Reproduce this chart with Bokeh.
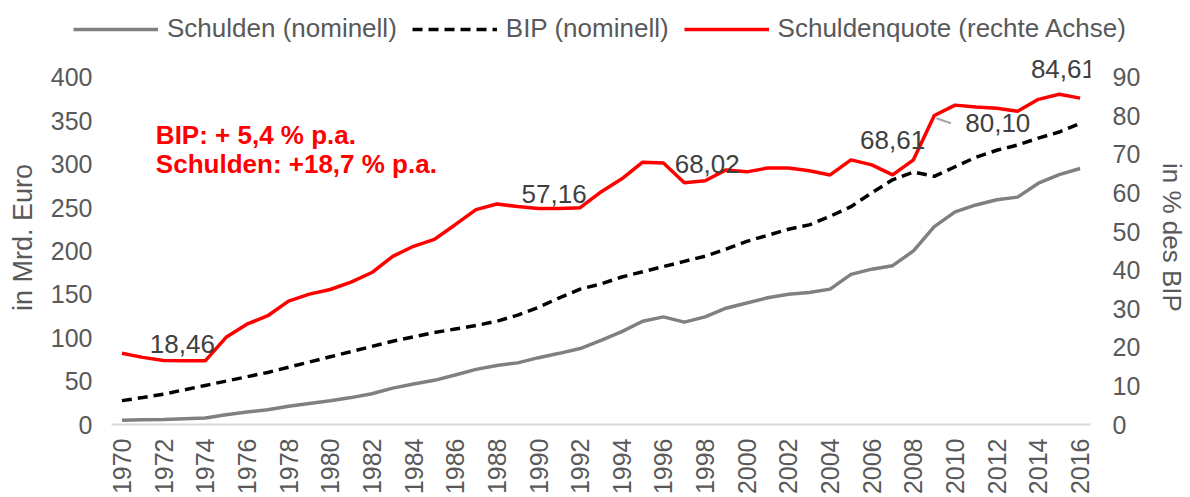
from math import pi
from bokeh.plotting import figure
from bokeh.layouts import column
from bokeh.models import Range1d, LinearAxis, FixedTicker, Legend, LegendItem, Label, LabelSet, ColumnDataSource
from bokeh.core.properties import value
from bokeh.embed import file_html
from bokeh.resources import INLINE

# ---------------- data ----------------
years = list(range(1970, 2017))

schulden = [5.0, 5.4, 5.8, 6.6, 7.4, 11.3, 14.3, 16.9, 21.1, 24.3,
            27.3, 31.0, 35.5, 41.9, 46.7, 50.9, 57.0, 63.5, 68.0, 71.0,
            77.0, 82.0, 87.5, 97.0, 107.0, 119.0, 124.0, 118.0, 124.0, 134.0,
            140.0, 146.0, 150.0, 152.0, 156.0, 173.0, 179.0, 183.0, 200.0, 228.0,
            245.0, 253.0, 259.0, 262.0, 278.0, 288.0, 295.0]

bip = [27.5, 31.0, 35.0, 40.0, 45.0, 50.0, 55.0, 60.0, 66.0, 72.0,
       78.0, 84.0, 90.0, 96.0, 101.0, 106.0, 110.0, 114.0, 119.0, 126.0,
       135.0, 146.0, 156.0, 162.0, 170.0, 176.0, 182.0, 188.0, 194.0, 202.0,
       211.0, 218.0, 225.0, 230.0, 240.0, 251.0, 267.0, 282.0, 291.0, 286.0,
       297.0, 308.0, 316.0, 322.0, 330.0, 337.0, 347.0]

quote = [18.46, 17.4, 16.6, 16.5, 16.5, 22.6, 26.0, 28.2, 32.0, 33.8,
         35.0, 36.9, 39.4, 43.6, 46.2, 48.0, 51.8, 55.7, 57.16, 56.5,
         56.0, 56.0, 56.2, 60.3, 63.7, 68.02, 67.8, 62.7, 63.2, 66.0,
         65.5, 66.5, 66.5, 65.8, 64.7, 68.6, 67.3, 64.7, 68.61, 80.10,
         82.8, 82.3, 82.0, 81.2, 84.3, 85.6, 84.61]

label_texts = ["18,46", "57,16", "68,02", "68,61", "80,10", "84,61"]

left_ticks = [0, 50, 100, 150, 200, 250, 300, 350, 400]
right_ticks = [0, 10, 20, 30, 40, 50, 60, 70, 80, 90]
x_ticks = years[::2]

series_names = ["Schulden (nominell)", "BIP (nominell)", "Schuldenquote (rechte Achse)"]
note_lines = ["BIP: + 5,4 % p.a.", "Schulden: +18,7 % p.a."]

# ---------------- styles ----------------
FONT = "Liberation Sans"
TXT = "#595959"
STYLES = [dict(line_color="#808080", line_width=3.5),
          dict(line_color="black", line_width=3.5, line_dash="10 6"),
          dict(line_color="#FF0000", line_width=3.5)]

src = ColumnDataSource(dict(year=years, schulden=schulden, bip=bip, quote=quote))

# ---------- legend strip (top); its series lie outside its (empty) view ----------
lg = figure(width=1190, height=50, output_backend="svg", toolbar_location=None,
            x_axis_type=None, y_axis_type=None,
            x_range=Range1d(1969.5, 2016.5), y_range=Range1d(-2, -1),
            min_border_left=0, min_border_right=0, min_border_top=0, min_border_bottom=0)
lg.frame_align = False
lg.grid.visible = False
lg.outline_line_color = None
lg_renderers = [lg.line("year", col, source=src, **st)
                for col, st in zip(["schulden", "bip", "quote"], STYLES)]
legend = Legend(items=[LegendItem(label=n, renderers=[r]) for n, r in zip(series_names, lg_renderers)],
                orientation="horizontal", location=(73, 6),
                glyph_width=85, glyph_height=30, label_height=30, label_standoff=9,
                spacing=15, padding=0, margin=0, border_line_color=None,
                background_fill_alpha=0, label_text_font=FONT, label_text_font_size="26px",
                label_text_color=TXT, label_text_baseline="middle")
lg.add_layout(legend)

# ---------- main chart ----------
p = figure(width=1190, height=447, output_backend="svg", toolbar_location=None,
           x_range=Range1d(1969.5, 2016.5), y_range=Range1d(0, 430.95),
           min_border_left=111, min_border_right=100, min_border_top=0, min_border_bottom=71)
p.frame_align = False
p.extra_y_ranges = {"right": Range1d(0, 96.96)}
p.grid.visible = False
p.outline_line_color = None
p.background_fill_color = "white"
p.border_fill_color = "white"


def style_axis(ax):
    ax.axis_line_color = None
    ax.major_tick_line_color = None
    ax.minor_tick_line_color = None
    ax.major_tick_out = 0
    ax.major_tick_in = 0
    ax.minor_tick_out = 0
    ax.minor_tick_in = 0
    ax.major_label_text_font = FONT
    ax.major_label_text_color = TXT
    ax.axis_label_text_font = FONT
    ax.axis_label_text_font_style = "normal"
    ax.axis_label_text_color = TXT


ya = p.yaxis[0]
style_axis(ya)
ya.ticker = FixedTicker(ticks=left_ticks)
ya.major_label_standoff = 19
ya.major_label_text_font_size = "25px"
ya.axis_label = "in Mrd. Euro"
ya.axis_label_text_font_size = "27px"
ya.axis_label_standoff = 10

ra = LinearAxis(y_range_name="right", ticker=FixedTicker(ticks=right_ticks))
style_axis(ra)
ra.major_label_standoff = 22
ra.major_label_text_font_size = "25px"
ra.axis_label = "in % des BIP"
ra.axis_label_text_font_size = "26px"
ra.axis_label_standoff = 14
p.add_layout(ra, "right")

xa = p.xaxis[0]
style_axis(xa)
xa.ticker = FixedTicker(ticks=x_ticks)
xa.major_label_orientation = pi / 2
xa.axis_line_color = "#D9D9D9"
xa.axis_line_width = 2
xa.major_label_standoff = 14
xa.axis_label_standoff = 0
xa.major_label_text_font_size = "25px"

p.line("year", "schulden", source=src, **STYLES[0])
p.line("year", "bip", source=src, **STYLES[1])
p.line("year", "quote", source=src, y_range_name="right", **STYLES[2])

# data labels (positions of the labels as placed in the chart)
lab_src = ColumnDataSource(dict(x=[1972.9, 1990.75, 1998.1, 2007.0, 2012.05, 2015.2],
                                y=[20.9, 59.8, 67.6, 73.7, 78.1, 92.1],
                                t=label_texts))
p.add_layout(LabelSet(x="x", y="y", text="t", source=lab_src, y_range_name="right",
                      text_align="center", text_baseline="middle",
                      text_font=value(FONT), text_font_size=value("26px"), text_color="#404040"))
# leader line for 80,10
p.segment(x0=[2009.1], y0=[79.4], x1=[2009.8], y1=[78.1], y_range_name="right",
          line_color="#A6A6A6", line_width=2)

# red annotation
for txt, yy in zip(note_lines, [333.5, 300.3]):
    p.add_layout(Label(x=1971.63, y=yy, text=txt, text_font=FONT, text_font_size="26px",
                       text_font_style="bold", text_color="#FF0000",
                       text_baseline="alphabetic", text_align="left"))

layout = column(lg, p, spacing=0)
open("out.html", "w").write(file_html(layout, INLINE))
